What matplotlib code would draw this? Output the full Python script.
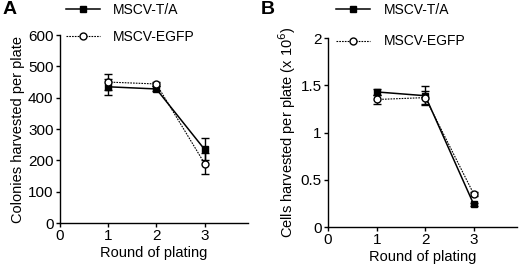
import numpy as np
import matplotlib
matplotlib.use('Agg')
import matplotlib.pyplot as plt
from matplotlib.lines import Line2D
from matplotlib.ticker import FuncFormatter

plt.rcParams['font.family'] = ['Liberation Sans', 'DejaVu Sans']
plt.rcParams['font.size'] = 8.5

# Datos
rondas = [1, 2, 3]
series = ['MSCV-T/A', 'MSCV-EGFP']

colonias_ta = [435, 428, 235]
colonias_ta_err = [25, 8, 35]
colonias_egfp = [450, 444, 190]
colonias_egfp_err = [25, 6, 35]

celulas_ta = [1.43, 1.39, 0.24]
celulas_ta_err = [0.03, 0.10, 0.02]
celulas_egfp = [1.35, 1.37, 0.35]
celulas_egfp_err = [0.05, 0.07, 0.02]

estilo_ta = dict(color='black', lw=1.1, marker='s', ms=5, mfc='black')
estilo_egfp = dict(color='black', lw=0.8, ls=(0, (1.5, 1)), marker='o', ms=5, mfc='white')

fig = plt.figure(figsize=(5.2, 2.7), dpi=100)
axA = fig.add_axes([0.115, 0.174, 0.362, 0.696])
axB = fig.add_axes([0.631, 0.159, 0.364, 0.700])


def dibujar(ax, ta, ta_err, egfp, egfp_err):
    ax.errorbar(rondas, ta, yerr=ta_err, capsize=3, elinewidth=1, zorder=3, **estilo_ta)
    ax.errorbar(rondas, egfp, yerr=egfp_err, capsize=3, elinewidth=1, zorder=4, **estilo_egfp)
    for s in ['top', 'right']:
        ax.spines[s].set_visible(False)
    ax.spines['left'].set_linewidth(1)
    ax.spines['bottom'].set_linewidth(1)
    ax.set_xlim(0, 3.9)
    ax.set_xticks([0, 1, 2, 3])
    ax.tick_params(direction='out', length=3, width=1, pad=1.5, labelsize=11)
    ax.set_xlabel('Round of plating', fontsize=10.5, labelpad=2)


dibujar(axA, colonias_ta, colonias_ta_err, colonias_egfp, colonias_egfp_err)
axA.set_ylim(0, 600)
axA.set_yticks([0, 100, 200, 300, 400, 500, 600])
axA.set_ylabel('Colonies harvested per plate', fontsize=10.5, labelpad=2)

dibujar(axB, celulas_ta, celulas_ta_err, celulas_egfp, celulas_egfp_err)
axB.set_ylim(0, 2)
axB.set_yticks([0, 0.5, 1, 1.5, 2])
axB.yaxis.set_major_formatter(FuncFormatter(lambda v, p: '%g' % v))
axB.set_ylabel('Cells harvested per plate (x 10$^6$)', fontsize=10.5, labelpad=2)

# Leyendas
handles = [Line2D([], [], **estilo_ta), Line2D([], [], **estilo_egfp)]
fig.legend(handles, series, loc='upper left', bbox_to_anchor=(0.103, 1.035), frameon=False,
           fontsize=10, handlelength=2.45, handletextpad=0.95, labelspacing=0.95)
fig.legend(handles, series, loc='upper left', bbox_to_anchor=(0.623, 1.035), frameon=False,
           fontsize=10, handlelength=2.45, handletextpad=0.95, labelspacing=1.25)

fig.text(0.004, 0.995, 'A', fontsize=14, fontweight='bold', va='top')
fig.text(0.502, 0.995, 'B', fontsize=14, fontweight='bold', va='top')

fig.savefig('out.png', dpi=100)
